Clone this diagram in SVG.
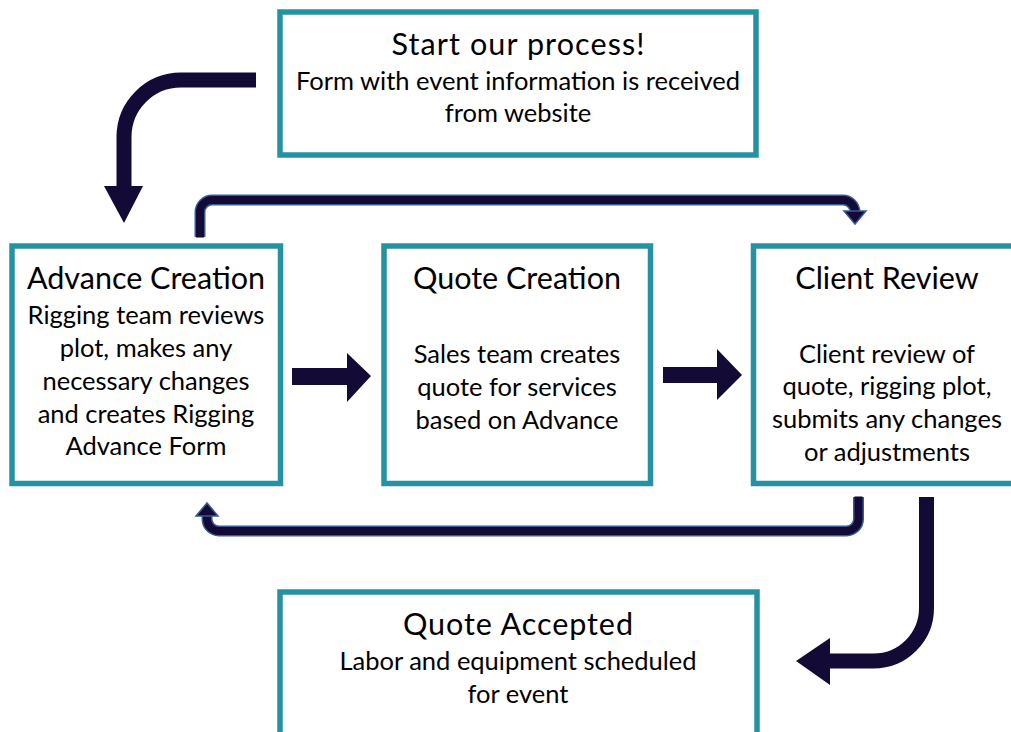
<svg xmlns="http://www.w3.org/2000/svg" width="1011" height="732" viewBox="0 0 1011 732">
<style>
.box{fill:#ffffff;stroke:#2592a2;stroke-width:5.5}
.t{font-family:Lato,"Liberation Sans",sans-serif;font-size:30.5px;fill:#000;text-anchor:middle}
.b{font-family:Lato,"Liberation Sans",sans-serif;font-size:25.5px;fill:#000;text-anchor:middle}
.thick{fill:none;stroke:#130b35;stroke-width:15}
.loopo{fill:none;stroke:#3a5a9a;stroke-width:11}
.loopi{fill:none;stroke:#130b35;stroke-width:8}
.head{fill:#130b35}
.heado{fill:#130b35;stroke:#3a5a9a;stroke-width:1.5}
</style>
<rect width="1011" height="732" fill="#ffffff"/>
<g id="start">
<rect class="box" x="280" y="12" width="476" height="143"/>
<text class="t" x="518" y="55" textLength="253">Start our process!</text>
<text class="b" x="518" y="90">Form with event information is received</text>
<text class="b" x="518" y="122">from website</text>
</g>
<g id="advance">
<rect class="box" x="12" y="246" width="268.5" height="237.5"/>
<text class="t" x="146" y="289">Advance Creation</text>
<text class="b" x="146" y="324">Rigging team reviews</text>
<text class="b" x="146" y="357">plot, makes any</text>
<text class="b" x="146" y="390">necessary changes</text>
<text class="b" x="146" y="423">and creates Rigging</text>
<text class="b" x="146" y="455">Advance Form</text>
</g>
<g id="quote">
<rect class="box" x="384" y="246" width="266.5" height="237.5"/>
<text class="t" x="517" y="289">Quote Creation</text>
<text class="b" x="517" y="363">Sales team creates</text>
<text class="b" x="517" y="396">quote for services</text>
<text class="b" x="517" y="429">based on Advance</text>
</g>
<g id="client">
<rect class="box" x="753.5" y="246" width="268" height="237.5"/>
<text class="t" x="887" y="289">Client Review</text>
<text class="b" x="887" y="363">Client review of</text>
<text class="b" x="887" y="395">quote, rigging plot,</text>
<text class="b" x="887" y="428">submits any changes</text>
<text class="b" x="887" y="461">or adjustments</text>
</g>
<g id="accepted">
<rect class="box" x="280" y="592" width="477" height="160"/>
<text class="t" x="518" y="635" textLength="230">Quote Accepted</text>
<text class="b" x="518" y="670">Labor and equipment scheduled</text>
<text class="b" x="518" y="703">for event</text>
</g>
<g id="connectors">
<path class="thick" d="M256,80 H181 A57,57 0 0 0 124,137 V187"/>
<polygon class="head" points="104,186 143,186 124,223"/>
<path class="loopo" d="M200,237 V212 A12,12 0 0 1 212,200 H843 A12,12 0 0 1 855,212 V213"/>
<path class="loopi" d="M200,237.5 V212 A12,12 0 0 1 212,200 H843 A12,12 0 0 1 855,212 V214"/>
<polygon class="heado" points="844,211 866,211 855,224"/>
<path class="loopo" d="M858.5,497 V519 A12,12 0 0 1 846.5,531 H219 A12,12 0 0 1 207,519 V516"/>
<path class="loopi" d="M858.5,496.5 V519 A12,12 0 0 1 846.5,531 H219 A12,12 0 0 1 207,519 V515"/>
<polygon class="heado" points="196,516 218,516 207,503"/>
<polygon class="head" points="292,368 347,368 347,353 371,376 347,402 347,385 292,385"/>
<polygon class="head" points="663,367 717,367 717,349 742,375 717,400 717,383 663,383"/>
<path class="thick" d="M926.5,497 V608 A53,53 0 0 1 873.5,661 H829"/>
<polygon class="head" points="830,638 830,685 796,661"/>
</g>
</svg>
